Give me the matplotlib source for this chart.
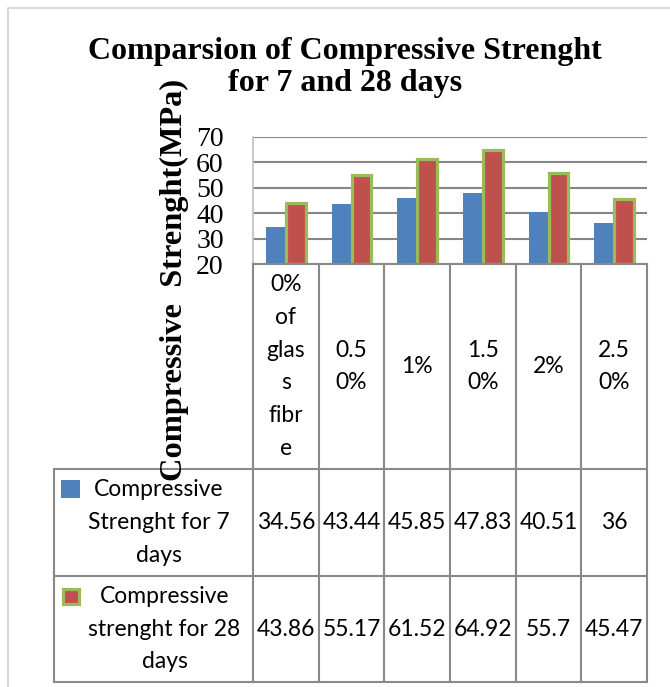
import matplotlib
matplotlib.use("Agg")
import matplotlib.pyplot as plt
from matplotlib.patches import Rectangle

# ---- data ----
categories = ["0%\nof\nglas\ns\nfibr\ne", "0.5\n0%", "1%", "1.5\n0%", "2%", "2.5\n0%"]
strength_7 = [34.56, 43.44, 45.85, 47.83, 40.51, 36]
strength_28 = [43.86, 55.17, 61.52, 64.92, 55.7, 45.47]
value_labels_7 = ["34.56", "43.44", "45.85", "47.83", "40.51", "36"]
value_labels_28 = ["43.86", "55.17", "61.52", "64.92", "55.7", "45.47"]
series_names = ["Compressive\nStrenght for 7\ndays", "Compressive\nstrenght for 28\ndays"]
y_ticks = [20, 30, 40, 50, 60, 70]
title_lines = ["Comparsion of Compressive Strenght", "for 7 and 28 days"]
y_label = "Compressive  Strenght(MPa)"

BLUE = "#4F81BD"
RED = "#C0504D"
GREEN = "#9BBB59"
GRID = "#868686"
TABLE = "#898989"

W, H = 670, 687
DPI = 100
fig = plt.figure(figsize=(W / DPI, H / DPI), dpi=DPI)

# plot area in pixel coordinates
px_left, px_right, px_top, px_bottom = 253, 647, 137, 264
ax = fig.add_axes([px_left / W, 1 - px_bottom / H,
                   (px_right - px_left) / W, (px_bottom - px_top) / H])
ax.set_facecolor("none")

n = len(categories)
x = list(range(n))
bw = 0.30
ax.bar([i - bw / 2 for i in x], [v - 20 for v in strength_7], bottom=20,
       width=bw, color=BLUE, zorder=3)
ax.bar([i + bw / 2 for i in x], [v - 20 for v in strength_28], bottom=20,
       width=bw, color=RED, edgecolor=GREEN, linewidth=2.3, zorder=3)

ax.set_xlim(-0.5, n - 0.5)
ax.set_ylim(20, 70)
ax.set_yticks(y_ticks)
ax.set_yticklabels([str(t) for t in y_ticks], family="Liberation Serif",
                   fontsize=20)
ax.tick_params(axis="y", length=0, pad=21)
ax.set_xticks([])
ax.yaxis.grid(True, color=GRID, linewidth=1.5, zorder=0)
for s in ["top", "right", "bottom"]:
    ax.spines[s].set_visible(False)
ax.spines["left"].set_color("#BFBFBF")
ax.spines["left"].set_linewidth(1.2)

# overlay axes in pixel coordinates for title, axis label and data table
ov = fig.add_axes([0, 0, 1, 1], zorder=5)
ov.set_xlim(0, W)
ov.set_ylim(H, 0)
ov.axis("off")

# chart area border
ov.plot([8, 8, W], [H, 8, 8], color="#D9D9D9", lw=1.5, solid_capstyle="butt")

# title
for k, line in enumerate(title_lines):
    ov.text(345, 52 + 31 * k, line, family="Liberation Serif", weight="bold",
            fontsize=23, ha="center", va="center")

# y axis label
ov.text(174, 280, y_label, family="Liberation Serif", weight="bold",
        fontsize=23.3, rotation=90, ha="center", va="center")

# column edges from the axis data scale
to_px = lambda xv: ax.transData.transform((xv, 20))[0]
edges = [to_px(i - 0.5) for i in range(n + 1)]
centers = [to_px(i) for i in x]

row_top, row_1, row_2, row_bottom = px_bottom, 469, 576, 682
table_left = 54
lw_t = 1.5

ov.plot([edges[0], edges[-1]], [row_top, row_top], color=TABLE, lw=lw_t)
for e in edges:
    ov.plot([e, e], [row_top, row_bottom], color=TABLE, lw=lw_t)
for yy in (row_1, row_2, row_bottom):
    ov.plot([table_left, edges[-1]], [yy, yy], color=TABLE, lw=lw_t)
ov.plot([table_left, table_left], [row_1, row_bottom], color=TABLE, lw=lw_t)

FONT = "Lato"
FS = 16.5
LINE = 32.8


def multiline(xc, yc, text):
    lines = text.split("\n")
    start = yc - LINE * (len(lines) - 1) / 2
    for k, ln in enumerate(lines):
        ov.text(xc, start + LINE * k, ln, family=FONT, fontsize=FS,
                ha="center", va="center")


for xc, cat in zip(centers, categories):
    multiline(xc, (row_top + row_1) / 2, cat)

for xc, v in zip(centers, value_labels_7):
    ov.text(xc, (row_1 + row_2) / 2, v, family=FONT, fontsize=FS,
            ha="center", va="center")
for xc, v in zip(centers, value_labels_28):
    ov.text(xc, (row_2 + row_bottom) / 2, v, family=FONT, fontsize=FS,
            ha="center", va="center")

# series names with legend keys
multiline(159, (row_1 + row_2) / 2, series_names[0])
multiline(164.5, (row_2 + row_bottom) / 2, series_names[1])
ov.add_patch(Rectangle((61, 480), 19, 18, facecolor=BLUE, edgecolor="none"))
ov.add_patch(Rectangle((62.5, 588.5), 16, 15, facecolor=RED,
                       edgecolor=GREEN, linewidth=2.3))

fig.savefig("out.png", dpi=DPI, facecolor="white")
